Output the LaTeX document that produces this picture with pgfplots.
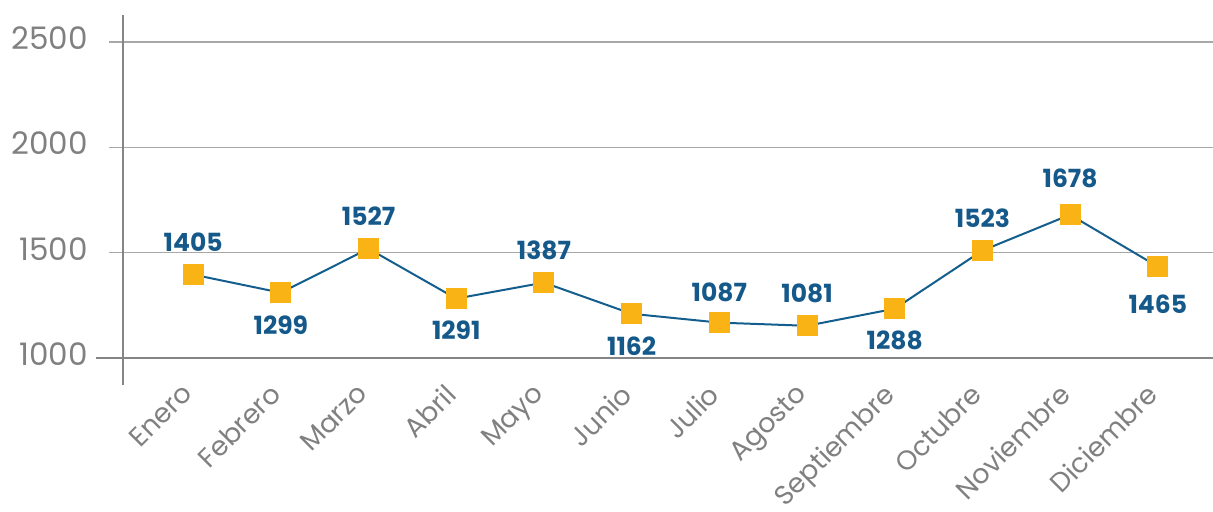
\documentclass[border=0pt]{standalone}
\usepackage{fontspec}
\setmainfont{Poppins}
\usepackage{pgfplots}
\pgfplotsset{compat=1.18}
\usepackage{pgfplotstable}
\definecolor{lineblue}{HTML}{145E8E}
\definecolor{labblue}{HTML}{14598A}
\definecolor{markyellow}{HTML}{F9B314}
\definecolor{axisgray}{HTML}{858585}
\definecolor{gridgray}{HTML}{A8A8A8}
\definecolor{tickgray}{HTML}{808080}

% x = month index, y = plotted height, lab = printed label, dy = label offset (pt)
\pgfplotstableread{
x y lab dy
0 1396 1405 16
1 1310 1299 -16
2 1519 1527 16
3 1282 1291 -16
4 1358 1387 16
5 1210 1162 -16
6 1168 1087 15
7 1153 1081 16
8 1234 1288 -16
9 1510 1523 16
10 1680 1678 18
11 1434 1465 -19
}\ventas

\begin{document}
\begin{tikzpicture}
\begin{axis}[
  scale only axis, width=545pt, height=185pt,
  xmin=-0.8, xmax=11.63, ymin=872, ymax=2628,
  clip=false,
  axis line style={draw=none},
  major tick length=0pt,
  xtick={0,...,11},
  xticklabels={Enero,Febrero,Marzo,Abril,Mayo,Junio,Julio,Agosto,Septiembre,Octubre,Noviembre,Diciembre},
  xticklabel style={rotate=45, anchor=north east, font=\fontsize{13.5}{15}\selectfont, text=tickgray, xshift=0pt, yshift=9pt},
  ytick={1000,1500,2000,2500},
  yticklabels={1000,1500,2000,2500},
  yticklabel style={anchor=east, font=\fontsize{15.5}{17}\selectfont, text=tickgray, xshift=-14pt, yshift=2pt},
]
\draw[gridgray, line width=0.6pt] ([xshift=-7pt]axis cs:-0.8,1500) -- (axis cs:11.63,1500);
\draw[gridgray, line width=0.6pt] ([xshift=-7pt]axis cs:-0.8,2000) -- (axis cs:11.63,2000);
\draw[gridgray, line width=0.6pt] ([xshift=-7pt]axis cs:-0.8,2500) -- (axis cs:11.63,2500);
\draw[axisgray, line width=1.2pt] ([xshift=-13.5pt]axis cs:-0.8,1000) -- (axis cs:11.63,1000);
\draw[axisgray, line width=1pt] (axis cs:-0.8,872) -- (axis cs:-0.8,2628);
\addplot[lineblue, line width=1pt, mark=square*, mark size=5pt,
  mark options={solid, fill=markyellow, draw=markyellow, line width=0pt},
  point meta=explicit symbolic,
  visualization depends on={\thisrow{dy} \as \dy},
  nodes near coords={\pgfplotspointmeta},
  nodes near coords style={anchor=center, yshift=\dy pt, text=labblue, font=\bfseries\fontsize{12.5}{14}\selectfont}]
  table[x=x, y=y, meta=lab] {\ventas};
\end{axis}
\pgfresetboundingbox
\path ([xshift=-61.5pt,yshift=-63.5pt]current axis.south west) rectangle ([yshift=7.5pt]current axis.north east);
\end{tikzpicture}
\end{document}
